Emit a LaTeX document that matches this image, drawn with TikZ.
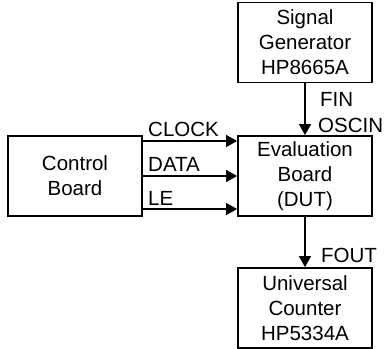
\documentclass[tikz,border=0pt]{standalone}
\usepackage{fontspec}
\setmainfont{Liberation Sans}
\usetikzlibrary{arrows.meta}
\begin{document}
\begin{tikzpicture}[x=1bp,y=-1bp,
  box/.style={draw,line width=1.8bp,minimum width=134bp,minimum height=80bp,inner sep=0pt,align=center,
    font=\fontsize{20.5bp}{25bp}\selectfont},
  arr/.style={line width=1.2bp,-{Triangle[length=11bp,width=12bp]}},
  lbl/.style={inner sep=0pt,anchor=base west,font=\fontsize{20.5bp}{25bp}\selectfont}]
\useasboundingbox (0,0) rectangle (386,349);
\node[box] (sg) at (305,42.5) {Signal\\Generator\\HP8665A};
\node[box] (eb) at (305,176) {Evaluation\\Board\\(DUT)};
\node[box] (cb) at (75,176) {Control\\Board};
\node[box] (uc) at (305,308) {Universal\\Counter\\HP5334A};
\draw[arr] (sg) -- (eb);
\draw[arr] (eb) -- (uc);
\draw[arr] ([yshift=35bp]cb.east) -- ([yshift=35bp]eb.west);
\draw[arr] (cb.east) -- (eb.west);
\draw[arr] ([yshift=-33bp]cb.east) -- ([yshift=-33bp]eb.west);
\node[lbl] (lclk) at (148,136) {CLOCK};
\node[lbl] (ldata) at (148,171) {DATA};
\node[lbl] (lle) at (148,205) {LE};
\node[lbl] (lfin) at (320,106) {FIN};
\node[lbl] (losc) at (318,132) {OSCIN};
\node[lbl] (lfout) at (321,262) {FOUT};
\end{tikzpicture}
\end{document}
